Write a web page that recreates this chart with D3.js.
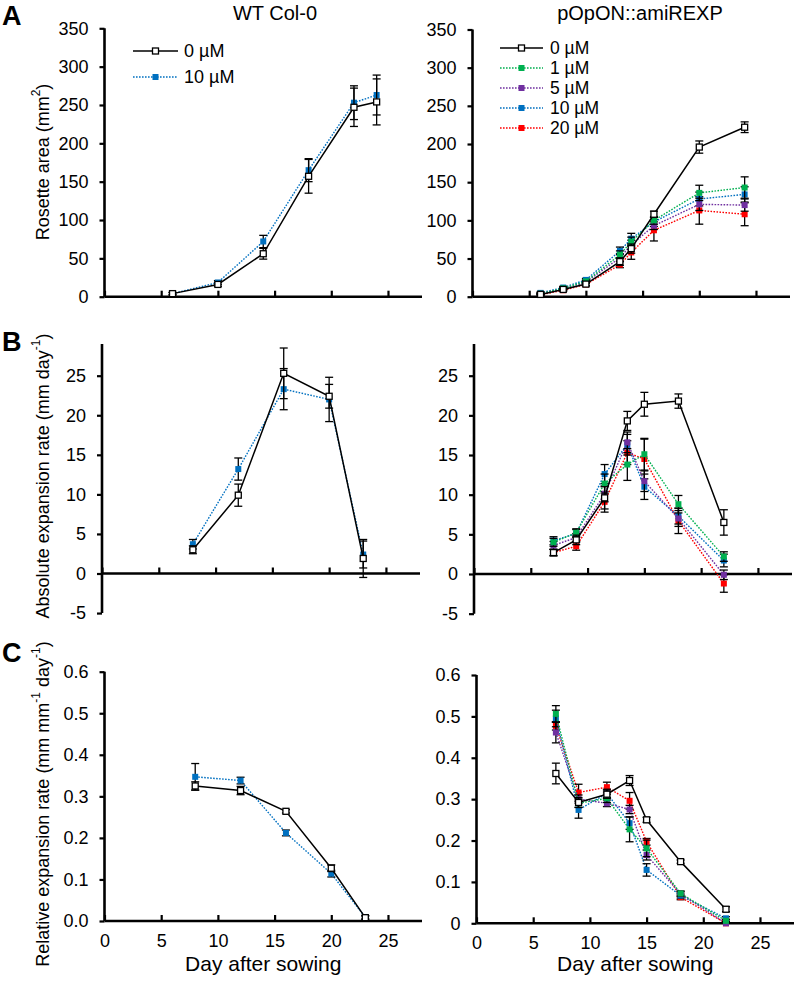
<!DOCTYPE html>
<html><head><meta charset="utf-8">
<script src="https://cdn.jsdelivr.net/npm/d3@7"></script>
<style>
html,body{margin:0;padding:0;background:#fff;}
svg{display:block;font-family:"Liberation Sans",Arial,sans-serif;}
</style></head>
<body><svg id="chart" width="797" height="982"></svg>
<script>
// ---------- DATA ----------
const seriesLabels = ["0 µM","1 µM","5 µM","10 µM","20 µM"];
const seriesColors = ["#000000","#00B050","#7030A0","#0070C0","#FF0000"];
const xTicks = [0,5,10,15,20,25];
const areaTicks = [0,50,100,150,200,250,300,350];
const aerTicks = [-5,0,5,10,15,20,25];
const rerTicks = [0,0.1,0.2,0.3,0.4,0.5,0.6];

// WT Col-0
const wtAreaDays = [6,10,14,18,22,24];
const wtArea0 = [4,16,56,157,247,254];
const wtArea0Err = [1.5,2.5,7,22,25,30];
const wtArea10 = [4,18.5,72,165,253,263];
const wtArea10Err = [1.5,2.5,8,15,22,26];

const wtRateDays = [8,12,16,20,23];
const wtAer0 = [3.0,9.9,25.3,22.4,1.9];
const wtAer0Err = [0.5,1.4,3.2,1.5,2.4];
const wtAer10 = [3.7,13.2,23.3,22.0,2.4];
const wtAer10Err = [0.6,1.4,2.6,2.8,1.7];
const wtRer0 = [0.325,0.314,0.264,0.127,0.008];
const wtRer0Err = [0.01,0.01,0.004,0.008,0.004];
const wtRer10 = [0.347,0.338,0.212,0.114,0.009];
const wtRer10Err = [0.032,0.008,0.007,0.008,0.004];

// pOpON::amiREXP  (order: 0, 1, 5, 10, 20 µM)
const amiAreaDays = [6,8,10,13,14,16,20,24];
const amiArea = [
  [3,9.5,16.5,46,63,108,196,222],
  [4,11,20,55,72,100,136,143],
  [4,10,19,51,68,93,121,120],
  [5,12,22,60,76,98,128,134],
  [2.5,8.5,16,42,58,87,113,108]
];
const amiAreaErr = [
  [1,1.5,2,5,6,4,8,7],
  [1,1.5,2,5,6,5,10,14],
  [1,1.5,2,5,6,5,8,8],
  [1,1.5,2,5,7,6,9,10],
  [1,1.5,2,4,9,14,18,15]
];
const amiRateDays = [7,9,11.5,13.5,15,18,22];
const amiAer = [
  [2.7,4.3,9.6,19.3,21.4,21.8,6.5],
  [4.0,5.2,11.4,13.8,15.1,8.8,2.2],
  [3.6,4.6,10.1,16.6,11.7,7.0,-0.1],
  [4.2,5.1,12.6,16.3,11.0,7.3,1.7],
  [2.7,3.5,9.1,15.3,14.5,6.7,-1.2]
];
const amiAerErr = [
  [0.4,0.6,1.4,1.2,1.5,0.9,1.6],
  [0.5,0.5,1.2,2.0,2.0,1.1,0.6],
  [0.5,0.5,1.0,1.3,1.3,1.0,0.6],
  [0.5,0.5,1.2,1.3,1.6,1.0,0.8],
  [0.4,0.5,1.3,1.5,2.5,1.6,1.1]
];
const amiRer = [
  [0.362,0.292,0.312,0.345,0.250,0.149,0.034],
  [0.506,0.290,0.302,0.227,0.181,0.072,0.006],
  [0.461,0.300,0.290,0.275,0.165,0.071,0.000],
  [0.495,0.274,0.314,0.242,0.129,0.067,0.012],
  [0.477,0.316,0.329,0.296,0.197,0.063,0.000]
];
const amiRerErr = [
  [0.025,0.012,0.01,0.012,0.006,0.004,0.006],
  [0.02,0.01,0.01,0.03,0.02,0.006,0.004],
  [0.025,0.01,0.008,0.01,0.012,0.006,0.004],
  [0.02,0.02,0.01,0.015,0.015,0.006,0.004],
  [0.01,0.02,0.012,0.02,0.008,0.006,0.004]
];

// ---------- DRAW ----------
const svg = d3.select("#chart");
const FONT = '"Liberation Sans",Arial,sans-serif';
const intFmt = d => String(d);

function mkSeries(days, vals, errs, idx){
  return {days, vals, errs, color: seriesColors[idx], dashed: idx !== 0};
}

function panel(p){
  const x = d3.scaleLinear().domain([0,28]).range([p.x0, p.x1]);
  const y = d3.scaleLinear().domain(p.refVals).range(p.refPx).clamp(!!p.clamp);
  const g = svg.append("g");
  const yMin = p.yDomain[0], yMax = p.yDomain[1];

  // y axis ticks + labels
  const ya = d3.axisLeft(y).tickValues(p.yTicks).tickSize(5).tickPadding(11).tickFormat(p.fmt);
  const yg = g.append("g").attr("transform", `translate(${p.x0},0)`).call(ya);
  yg.select(".domain").remove();
  yg.selectAll("line").attr("stroke","#000").attr("stroke-width",2.2);
  yg.selectAll("text").attr("font-size",18).attr("font-family",FONT).attr("fill","#000");
  g.append("line").attr("x1",p.x0).attr("x2",p.x0).attr("y1",y(yMin)).attr("y2",y(yMax))
    .attr("stroke","#000").attr("stroke-width",2.6);

  // x axis
  const xa = d3.axisBottom(x).tickValues(xTicks).tickSizeInner(-6).tickSizeOuter(0).tickPadding(13)
    .tickFormat(p.xLabels ? intFmt : "");
  const xg = g.append("g").attr("transform", `translate(0,${y(0)})`).call(xa);
  xg.select(".domain").remove();
  xg.selectAll("line").attr("stroke","#000").attr("stroke-width",2.2);
  xg.selectAll("text").attr("font-size",18).attr("font-family",FONT).attr("fill","#000");
  g.append("line").attr("x1",p.x0).attr("x2",p.x1).attr("y1",y(0)).attr("y2",y(0))
    .attr("stroke","#000").attr("stroke-width",2.6);

  if (p.xLabels){
    g.append("text").attr("x",(p.x0+p.x1)/2).attr("y",971).attr("text-anchor","middle")
      .attr("font-size",21).attr("font-family",FONT).text("Day after sowing");
  }

  // series (colored first, black last)
  const order = p.series.map((s,i)=>i).reverse();
  order.forEach(i=>{
    const s = p.series[i];
    const pts = s.days.map((d,k)=>({d, v:s.vals[k], e:s.errs[k]}));
    const line = d3.line().x(d=>x(d.d)).y(d=>y(d.v));
    g.append("path").attr("d",line(pts)).attr("fill","none").attr("stroke",s.color)
      .attr("stroke-width", s.dashed?1.4:1.5)
      .attr("stroke-dasharray", s.dashed?"1.6 1.4":null);
    const eb = g.append("g").attr("stroke","#000").attr("stroke-width",1.3);
    pts.forEach(pt=>{
      const cx = x(pt.d), y1 = y(pt.v+pt.e), y2 = y(pt.v-pt.e);
      eb.append("line").attr("x1",cx).attr("x2",cx).attr("y1",y1).attr("y2",y2);
      eb.append("line").attr("x1",cx-4).attr("x2",cx+4).attr("y1",y1).attr("y2",y1);
      eb.append("line").attr("x1",cx-4).attr("x2",cx+4).attr("y1",y2).attr("y2",y2);
    });
    pts.forEach(pt=>{
      if (s.dashed){
        g.append("rect").attr("x",x(pt.d)-3).attr("y",y(pt.v)-3).attr("width",6).attr("height",6)
          .attr("fill",s.color);
      } else {
        g.append("rect").attr("x",x(pt.d)-3).attr("y",y(pt.v)-3).attr("width",6).attr("height",6)
          .attr("fill","#fff").attr("stroke","#000").attr("stroke-width",1.3);
      }
    });
  });
  return {x,y};
}

// Row A
panel({x0:104.5, x1:422, refVals:[0,350], refPx:[296.7,28.3], yDomain:[0,350], yTicks:areaTicks,
  fmt:intFmt, series:[mkSeries(wtAreaDays,wtArea0,wtArea0Err,0), mkSeries(wtAreaDays,wtArea10,wtArea10Err,3)]});
panel({x0:472.5, x1:790, refVals:[0,350], refPx:[296.7,29.5], yDomain:[0,350], yTicks:areaTicks,
  fmt:intFmt, series:amiArea.map((v,i)=>mkSeries(amiAreaDays,v,amiAreaErr[i],i))});
// Row B
panel({x0:102, x1:420, refVals:[0,25], refPx:[573.5,375.7], yDomain:[-5,29], yTicks:aerTicks,
  fmt:intFmt, series:[mkSeries(wtRateDays,wtAer0,wtAer0Err,0), mkSeries(wtRateDays,wtAer10,wtAer10Err,3)]});
panel({x0:474, x1:792, refVals:[0,25], refPx:[574,375.7], yDomain:[-5,29], yTicks:aerTicks,
  fmt:intFmt, series:amiAer.map((v,i)=>mkSeries(amiRateDays,v,amiAerErr[i],i))});
// Row C
panel({x0:104.5, x1:422, refVals:[0,0.6], refPx:[921,671.7], yDomain:[0,0.65], yTicks:rerTicks, clamp:true,
  fmt:d3.format(".1f"), xLabels:true,
  series:[mkSeries(wtRateDays,wtRer0,wtRer0Err,0), mkSeries(wtRateDays,wtRer10,wtRer10Err,3)]});
panel({x0:476.5, x1:794, refVals:[0,0.6], refPx:[923.3,675], yDomain:[0,0.65], yTicks:rerTicks, clamp:true,
  fmt:d=> d===0 ? "0" : d3.format(".1f")(d), xLabels:true,
  series:amiRer.map((v,i)=>mkSeries(amiRateDays,v,amiRerErr[i],i))});

// Titles
svg.append("text").attr("x",275).attr("y",20).attr("text-anchor","middle").attr("font-size",20)
  .attr("font-family",FONT).text("WT Col-0");
svg.append("text").attr("x",640).attr("y",20).attr("text-anchor","middle").attr("font-size",20)
  .attr("font-family",FONT).text("pOpON::amiREXP");

// Panel letters
[["A",25],["B",351],["C",662]].forEach(([t,yy])=>{
  svg.append("text").attr("x",2).attr("y",yy).attr("font-size",27).attr("font-weight","bold")
    .attr("font-family",FONT).text(t);
});

// Y titles
function yTitle(cy, parts){
  const t = svg.append("text").attr("transform",`translate(43,${cy}) rotate(-90)`)
    .attr("text-anchor","middle").attr("dominant-baseline","central")
    .attr("font-size",18).attr("font-family",FONT);
  parts.forEach(([txt,sup])=>{
    const ts = t.append("tspan").text(txt);
    if (sup){ ts.attr("font-size",12).attr("baseline-shift","super"); }
  });
}
yTitle(162, [["Rosette area (mm"],["2",true],[")"]]);
yTitle(476, [["Absolute expansion rate (mm day"],["-1",true],[")"]]);
yTitle(804, [["Relative expansion rate (mm mm"],["-1",true],[" day"],["-1",true],[")"]]);

// Legends
function legend(x1, x2, tx, rows, fontSize){
  rows.forEach(([idx, yy])=>{
    const c = seriesColors[idx], dashed = idx!==0;
    svg.append("line").attr("x1",x1).attr("x2",x2).attr("y1",yy).attr("y2",yy)
      .attr("stroke",c).attr("stroke-width",dashed?1.4:1.5).attr("stroke-dasharray",dashed?"1.6 1.4":null);
    const mx = (x1+x2)/2;
    if (dashed) svg.append("rect").attr("x",mx-3).attr("y",yy-3).attr("width",6).attr("height",6).attr("fill",c);
    else svg.append("rect").attr("x",mx-3).attr("y",yy-3).attr("width",6).attr("height",6)
      .attr("fill","#fff").attr("stroke","#000").attr("stroke-width",1.3);
    svg.append("text").attr("x",tx).attr("y",yy).attr("dy","0.35em").attr("font-size",fontSize)
      .attr("font-family",FONT).text(seriesLabels[idx]);
  });
}
legend(133,178,184,[[0,51],[3,77]],18);
legend(500,543,550,[[0,48],[1,68],[2,88],[3,108],[4,128]],17.5);
</script>
</body></html>
